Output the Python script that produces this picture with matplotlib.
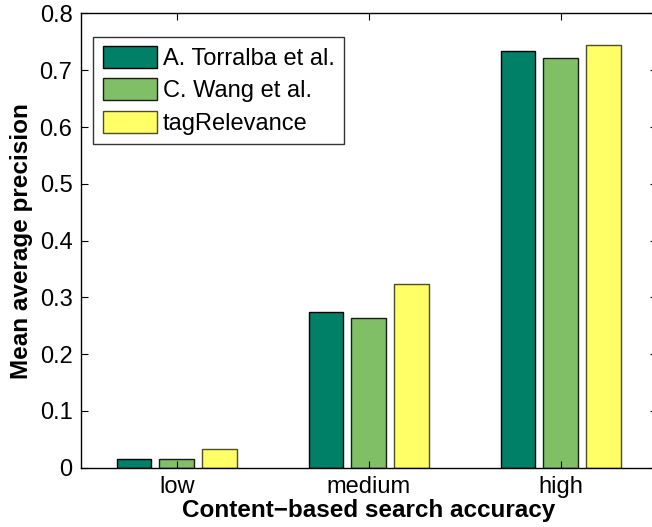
import matplotlib

matplotlib.use("Agg")
import matplotlib.pyplot as plt
import numpy as np

categories = ["low", "medium", "high"]
methods = ["A. Torralba et al.", "C. Wang et al.", "tagRelevance"]
torralba = [0.015, 0.275, 0.734]
wang = [0.015, 0.263, 0.721]
tag_relevance = [0.033, 0.323, 0.744]
y_ticks = [0, 0.1, 0.2, 0.3, 0.4, 0.5, 0.6, 0.7, 0.8]

colors = ["#008066", "#80bf66", "#ffff66"]
edges = ["#000000", "#1a1a1a", "#4d4d26"]

plt.rcParams["font.family"] = ["Liberation Sans", "DejaVu Sans"]

fig = plt.figure(figsize=(6.52, 5.27), dpi=100)
ax = fig.add_axes([0.1238, 0.1125, 0.8834, 0.8619])

x = np.arange(1, len(categories) + 1)
width = 0.18
offset = 0.222
for i, (values, label) in enumerate(zip([torralba, wang, tag_relevance], methods)):
    ax.bar(
        x + (i - 1) * offset,
        values,
        width,
        color=colors[i],
        edgecolor=edges[i],
        linewidth=1.0,
        label=label,
    )

ax.set_xlim(0.5, 3.5)
ax.set_ylim(0, 0.8)
ax.set_xticks(x)
ax.set_xticklabels(categories)
ax.set_yticks(y_ticks)
ax.set_yticklabels(["0"] + [f"{v:.1f}" for v in y_ticks[1:]])
ax.tick_params(
    direction="in", length=5, width=0.8, labelsize=17,
    top=True, right=True, pad=6,
)
for spine in ax.spines.values():
    spine.set_linewidth(1.0)

ax.set_xlabel("Content\u2212based search accuracy", fontsize=17.5, fontweight="bold", labelpad=1)
ax.set_ylabel("Mean average precision", fontsize=17.5, fontweight="bold", labelpad=5)

leg = ax.legend(
    loc="upper left",
    bbox_to_anchor=(0.022, 0.949),
    borderaxespad=0,
    fontsize=17,
    fancybox=False,
    frameon=True,
    handlelength=2.3,
    handleheight=1.05,
    handletextpad=0.25,
    labelspacing=0.35,
    borderpad=0.4,
)
leg.get_frame().set_edgecolor("black")
leg.get_frame().set_linewidth(1.0)

fig.savefig("out.png", dpi=100)
